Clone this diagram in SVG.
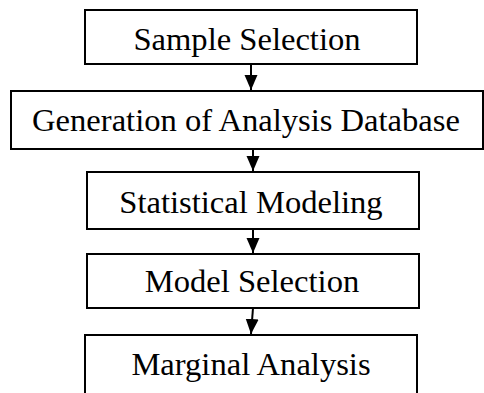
<svg xmlns="http://www.w3.org/2000/svg" width="484" height="393" viewBox="0 0 484 393">
  <style>
    .box { fill: #ffffff; stroke: #000000; stroke-width: 2; }
    .lbl { font-family: "Liberation Serif", "Times New Roman", serif; font-size: 32.6px; fill: #000000; text-anchor: middle; }
    .conn { stroke: #000000; stroke-width: 2; fill: none; }
  </style>
  <defs>
    <marker id="arrow" markerUnits="userSpaceOnUse" markerWidth="15" markerHeight="14" refX="15" refY="6.5" orient="auto">
      <path d="M0,0 L15,6.5 L0,13 Z" fill="#000000"/>
    </marker>
  </defs>
  <rect width="484" height="393" fill="#ffffff"/>
  <g id="n1">
    <rect class="box" x="85" y="10" width="332" height="54"/>
    <text class="lbl" x="247" y="50">Sample Selection</text>
  </g>
  <g id="n2">
    <rect class="box" x="11" y="91" width="472" height="58"/>
    <text class="lbl" x="246" y="131">Generation of Analysis Database</text>
  </g>
  <g id="n3">
    <rect class="box" x="87" y="172" width="332" height="57"/>
    <text class="lbl" x="251" y="213">Statistical Modeling</text>
  </g>
  <g id="n4">
    <rect class="box" x="87" y="254" width="332" height="54"/>
    <text class="lbl" x="252" y="292">Model Selection</text>
  </g>
  <g id="n5">
    <rect class="box" x="85" y="335" width="332" height="70"/>
    <text class="lbl" x="251" y="375">Marginal Analysis</text>
  </g>
  <g id="connectors">
    <line class="conn" x1="251" y1="64" x2="251" y2="90" marker-end="url(#arrow)"/>
    <line class="conn" x1="253" y1="149" x2="253" y2="171" marker-end="url(#arrow)"/>
    <line class="conn" x1="253" y1="229" x2="253" y2="253" marker-end="url(#arrow)"/>
    <line class="conn" x1="253" y1="308" x2="251" y2="334" marker-end="url(#arrow)"/>
  </g>
</svg>
